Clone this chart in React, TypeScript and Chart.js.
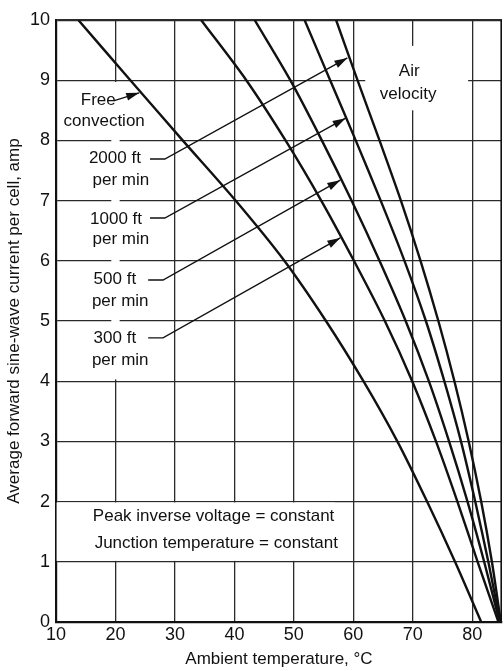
import React, { useEffect, useRef } from 'react';
import { Chart, registerables } from 'chart.js';

Chart.register(...registerables);

// ---- data ----
const currentLevels = [10, 9, 8, 7, 6, 5, 4, 3, 2, 1, 0];
const freeConvection = [13.75, 22.5, 31.3, 40.2, 48.4, 55.4, 61.7, 67.4, 72.4, 77.1, 81.5];
const air300 = [34.4, 42.0, 48.6, 54.6, 60.1, 65.3, 69.9, 73.9, 77.5, 80.9, 84.4];
const air500 = [43.4, 49.4, 54.7, 59.7, 64.4, 68.8, 72.7, 76.1, 79.2, 82.0, 84.6];
const air1000 = [51.8, 56.1, 60.4, 64.6, 68.6, 72.2, 75.3, 78.1, 80.5, 82.7, 84.7];
const air2000 = [57.1, 60.7, 64.4, 68.0, 71.3, 74.3, 77.0, 79.4, 81.5, 83.3, 84.8];

const xTicks = [10, 20, 30, 40, 50, 60, 70, 80];
const yTicks = [0, 1, 2, 3, 4, 5, 6, 7, 8, 9, 10];
const xMin = 10;
const xMax = 85;
const yMin = 0;
const yMax = 10;

const xTitle = 'Ambient temperature, \u00B0C';
const yTitle = 'Average forward sine-wave current per cell, amp';

// annotation texts (data coordinates)
const labelTexts = ['Free', 'convection', '2000 ft', 'per min', '1000 ft', 'per min', '500 ft', 'per min', '300 ft', 'per min', 'Air', 'velocity'];
const labelX = [17.1, 18.1, 19.9, 20.9, 20.1, 20.9, 19.9, 20.8, 19.9, 20.8, 69.4, 69.2];
const labelY = [8.67, 8.32, 7.71, 7.34, 6.69, 6.35, 5.70, 5.32, 4.72, 4.35, 9.14, 8.77];

const noteTexts = ['Peak inverse voltage = constant', 'Junction temperature = constant'];
const noteX = [16.2, 16.5];
const noteY = [1.76, 1.31];

// leader arrows: polyline points, arrowhead at last point
const arrowPaths = [
  [[19.8, 8.66], [24.0, 8.79]],
  [[25.8, 7.69], [28.3, 7.69], [59.0, 9.37]],
  [[25.8, 6.71], [28.3, 6.71], [58.7, 8.37]],
  [[25.5, 5.68], [28.0, 5.68], [57.8, 7.34]],
  [[25.5, 4.72], [28.0, 4.72], [57.8, 6.38]],
];

// white areas behind the text blocks (data coordinates)
const maskX0 = [19.3, 62.0, 10.1];
const maskX1 = [20.7, 79.3, 56.9];
const maskY0 = [4.03, 8.5, 1.015];
const maskY1 = [8.97, 9.57, 1.985];

const FONT = "'Liberation Sans', Arial, sans-serif";
const INK = '#111';

const decorPlugin = {
  id: 'decor',
  beforeDatasetsDraw(chart: any) {
    const { ctx, chartArea: ca, scales } = chart;
    const x = scales.x;
    const y = scales.y;
    ctx.save();
    ctx.fillStyle = '#fff';
    for (let i = 0; i < maskX0.length; i++) {
      const l = x.getPixelForValue(maskX0[i]);
      const r = x.getPixelForValue(maskX1[i]);
      const t = y.getPixelForValue(maskY1[i]);
      const b = y.getPixelForValue(maskY0[i]);
      ctx.fillRect(l, t, r - l, b - t);
    }
    ctx.strokeStyle = INK;
    ctx.lineWidth = 1.6;
    ctx.beginPath();
    ctx.moveTo(ca.right - 0.8, ca.top);
    ctx.lineTo(ca.right - 0.8, ca.bottom);
    ctx.stroke();
    ctx.restore();
  },
  afterDatasetsDraw(chart: any) {
    const { ctx, scales } = chart;
    const x = scales.x;
    const y = scales.y;
    ctx.save();
    ctx.strokeStyle = INK;
    ctx.fillStyle = INK;
    ctx.lineWidth = 1.4;
    for (const path of arrowPaths) {
      const pts = path.map((p) => [x.getPixelForValue(p[0]), y.getPixelForValue(p[1])]);
      ctx.beginPath();
      ctx.moveTo(pts[0][0], pts[0][1]);
      for (let i = 1; i < pts.length; i++) ctx.lineTo(pts[i][0], pts[i][1]);
      ctx.stroke();
      const a = pts[pts.length - 2];
      const b = pts[pts.length - 1];
      const ang = Math.atan2(b[1] - a[1], b[0] - a[0]);
      const len = 13;
      const hw = 4;
      const bx = b[0] - len * Math.cos(ang);
      const by = b[1] - len * Math.sin(ang);
      ctx.beginPath();
      ctx.moveTo(b[0], b[1]);
      ctx.lineTo(bx + hw * Math.sin(ang), by - hw * Math.cos(ang));
      ctx.lineTo(bx - hw * Math.sin(ang), by + hw * Math.cos(ang));
      ctx.closePath();
      ctx.fill();
    }
    ctx.font = `17px ${FONT}`;
    ctx.textAlign = 'center';
    ctx.textBaseline = 'middle';
    for (let i = 0; i < labelTexts.length; i++) {
      ctx.fillText(labelTexts[i], x.getPixelForValue(labelX[i]), y.getPixelForValue(labelY[i]));
    }
    ctx.textAlign = 'left';
    for (let i = 0; i < noteTexts.length; i++) {
      ctx.fillText(noteTexts[i], x.getPixelForValue(noteX[i]), y.getPixelForValue(noteY[i]));
    }
    ctx.restore();
  },
};

function series(label: string, xs: number[]) {
  return {
    label,
    data: xs.map((v, i) => ({ x: v, y: currentLevels[i] })).sort((a, b) => a.x - b.x),
    borderColor: INK,
    borderWidth: 2.4,
    pointRadius: 0,
    fill: false,
    tension: 0.3,
  };
}

export default function App() {
  const ref = useRef<HTMLCanvasElement | null>(null);
  useEffect(() => {
    if (!ref.current) return;
    const chart = new Chart(ref.current, {
      type: 'line',
      data: {
        datasets: [
          series('Free convection', freeConvection),
          series('300 ft per min', air300),
          series('500 ft per min', air500),
          series('1000 ft per min', air1000),
          series('2000 ft per min', air2000),
        ],
      },
      options: {
        animation: false,
        responsive: false,
        devicePixelRatio: 1,
        layout: { padding: { top: 20, right: 2, left: 0, bottom: 0 } },
        plugins: { legend: { display: false }, tooltip: { enabled: false }, title: { display: false } },
        scales: {
          x: {
            type: 'linear',
            min: xMin,
            max: xMax,
            afterBuildTicks: (s: any) => {
              s.ticks = xTicks.map((v) => ({ value: v }));
            },
            afterFit: (s: any) => {
              s.height = 49;
            },
            ticks: {
              color: INK,
              font: { family: FONT, size: 18 },
              padding: 2,
              maxRotation: 0,
              autoSkip: false,
            },
            grid: { color: '#2a2a2a', lineWidth: 1.3, drawTicks: false },
            border: { display: true, color: INK, width: 2.2 },
            title: {
              display: true,
              text: xTitle,
              color: INK,
              font: { family: FONT, size: 17 },
              padding: { top: 0, bottom: 1 },
            },
          },
          y: {
            type: 'linear',
            min: yMin,
            max: yMax,
            afterBuildTicks: (s: any) => {
              s.ticks = yTicks.map((v) => ({ value: v }));
            },
            afterFit: (s: any) => {
              s.width = 56;
            },
            ticks: {
              color: INK,
              font: { family: FONT, size: 18 },
              padding: 6,
              autoSkip: false,
            },
            grid: {
              color: '#2a2a2a',
              lineWidth: (c: any) => (c.tick && c.tick.value === yMax ? 2.2 : 1.3),
              drawTicks: false,
            },
            border: { display: true, color: INK, width: 2.2 },
            title: {
              display: true,
              text: yTitle,
              color: INK,
              font: { family: FONT, size: 17 },
              padding: { top: 4, bottom: 0 },
            },
          },
        },
      },
      plugins: [decorPlugin],
    });
    return () => chart.destroy();
  }, []);
  return (
    <div style={{ position: 'absolute', left: 0, top: 0, width: 504, height: 671, background: '#fff' }}>
      <canvas ref={ref} width={504} height={671} style={{ display: 'block' }} />
    </div>
  );
}
